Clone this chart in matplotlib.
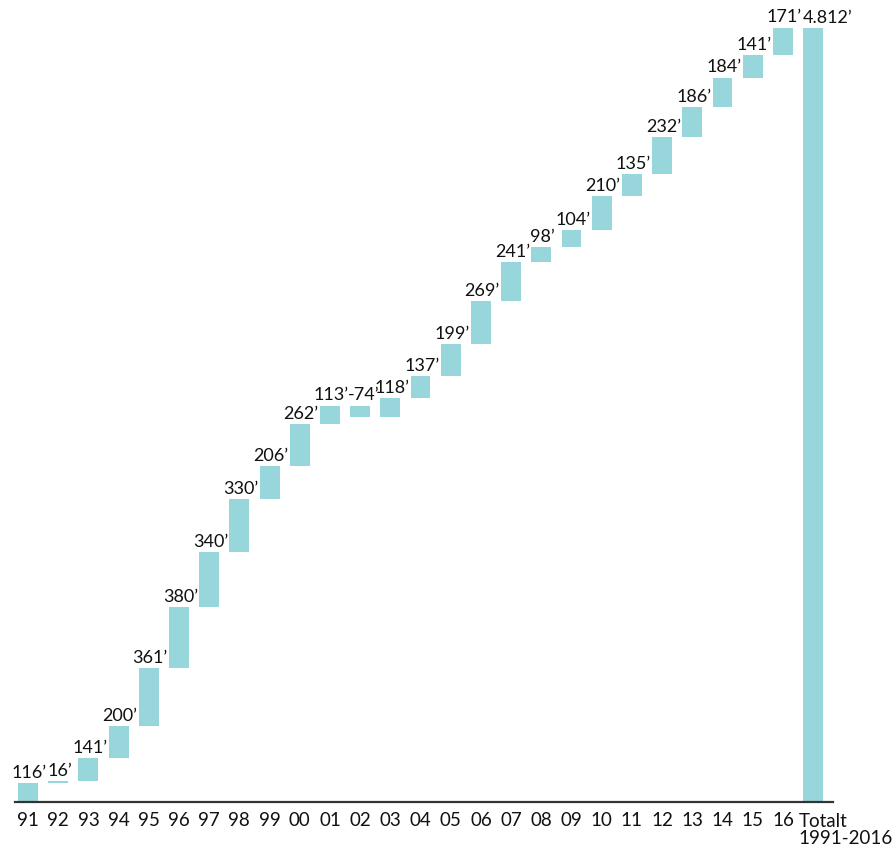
import matplotlib
matplotlib.use("Agg")
import matplotlib.pyplot as plt
import numpy as np

years = ["91", "92", "93", "94", "95", "96", "97", "98", "99", "00", "01", "02", "03",
         "04", "05", "06", "07", "08", "09", "10", "11", "12", "13", "14", "15", "16"]
changes = [116, 16, 141, 200, 361, 380, 340, 330, 206, 262, 113, -74, 118,
           137, 199, 269, 241, 98, 104, 210, 135, 232, 186, 184, 141, 171]
total_label = "Totalt\n1991-2016"
total_value = 4812

plt.rcParams['font.family'] = ['Lato', 'DejaVu Sans']

color = "#97D6DA"
fig = plt.figure(figsize=(8.92, 8.52), dpi=100)
ax = fig.add_axes([15 / 892, 50 / 852, (833 - 15) / 892, (802 - 28) / 852])

n = len(changes)
x = np.arange(n + 1)
width = 0.66
starts = np.concatenate([[0], np.cumsum(changes)[:-1]])
ends = np.cumsum(changes)

ax.bar(x[:n], changes, bottom=starts, width=width, color=color, linewidth=0)
ax.bar(x[n], total_value, width=width, color=color, linewidth=0)

fs = 13.5
label_fs = 13
for i, v in enumerate(changes):
    top = max(starts[i], ends[i])
    dx = 2.5 if v < 0 else 1
    ax.annotate(f"{v}\u2019", (x[i], top), xytext=(dx, 1.5), textcoords="offset points",
                ha="center", va="bottom", fontsize=label_fs, color="#111111",
                annotation_clip=False)
ax.annotate(f"{total_value // 1000}.{total_value % 1000:03d}\u2019", (x[n] - width / 2, total_value),
            xytext=(0, 1.5), textcoords="offset points", ha="left", va="bottom",
            fontsize=label_fs, color="#111111", annotation_clip=False)

ax.set_xlim(-0.43, n + 0.66)
ax.set_ylim(0, total_value)
for s in ["top", "right", "left"]:
    ax.spines[s].set_visible(False)
ax.spines["bottom"].set_linewidth(1.6)
ax.spines["bottom"].set_color("#333333")
ax.set_yticks([])
ax.set_xticks(x[:n])
ax.set_xticklabels(years, fontsize=fs)
ax.tick_params(axis="x", length=0, pad=7)
ax.text(x[n] - width / 2 - 0.15, -0.014 * total_value, total_label,
        ha="left", va="top", fontsize=fs, color="#111111", linespacing=1.0)
for t in ax.get_xticklabels():
    t.set_color("#111111")

fig.savefig("out.png", dpi=100)
